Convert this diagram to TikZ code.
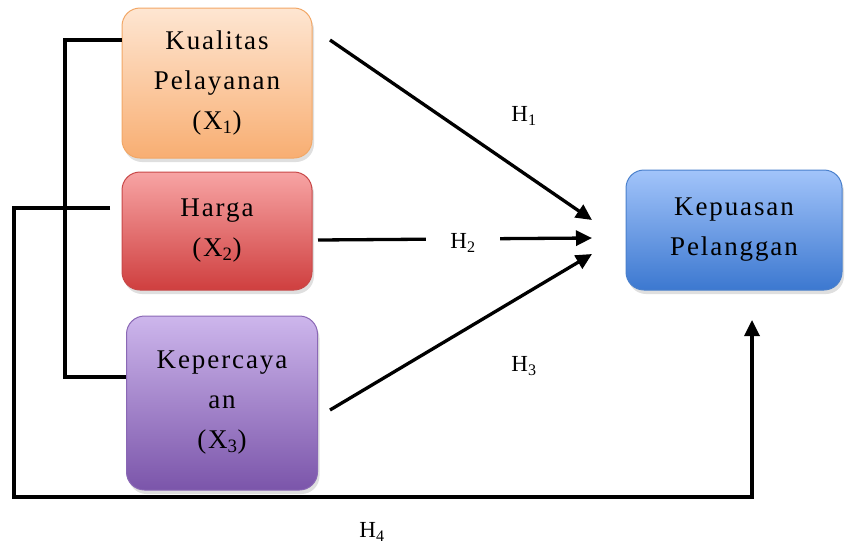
\documentclass[tikz,border=0pt]{standalone}
\usepackage{fontspec}
\setmainfont{Liberation Serif}
\newfontfamily\boxfont[LetterSpace=7]{Liberation Serif}
\usetikzlibrary{arrows.meta,shadows}

\definecolor{orTop}{HTML}{FEE6D2}
\definecolor{orBot}{HTML}{F8AE72}
\definecolor{orLine}{HTML}{F2A766}
\definecolor{rdTop}{HTML}{F7A4A4}
\definecolor{rdBot}{HTML}{CF3F3F}
\definecolor{rdLine}{HTML}{C84848}
\definecolor{puTop}{HTML}{CDB6EC}
\definecolor{puBot}{HTML}{7B55AA}
\definecolor{puLine}{HTML}{8A68B5}
\definecolor{blTop}{HTML}{A2C4FA}
\definecolor{blBot}{HTML}{3C78D0}
\definecolor{blLine}{HTML}{4A80CC}

\tikzset{
  varbox/.style={draw, line width=1pt, rounded corners=18pt, align=center,
    font=\boxfont\fontsize{27}{40}\selectfont, inner sep=0pt,
    drop shadow={opacity=0.25, shadow xshift=2pt, shadow yshift=-4pt}},
  wire/.style={line width=3.3pt},
  link/.style={line width=3.3pt, -{Triangle[length=16pt,width=15pt]}},
  hlabel/.style={font=\fontsize{23}{26}\selectfont, inner sep=2pt}
}

\begin{document}
\begin{tikzpicture}[x=1pt,y=-1pt]
\useasboundingbox (0,0) rectangle (856,549);

% variable boxes
\node[varbox, minimum width=190pt, minimum height=150pt, top color=orTop, bottom color=orBot, draw=orLine]
  (kq) at (217,83) {Kualitas\\Pelayanan\\(X\textsubscript{1})};
\node[varbox, minimum width=190pt, minimum height=118pt, top color=rdTop, bottom color=rdBot, draw=rdLine]
  (hg) at (217,231) {Harga\\(X\textsubscript{2})};
\node[varbox, minimum width=191pt, minimum height=174pt, top color=puTop, bottom color=puBot, draw=puLine]
  (kp) at (222,403) {Kepercaya\\an\\(X\textsubscript{3})};
\node[varbox, minimum width=216pt, minimum height=120pt, top color=blTop, bottom color=blBot, draw=blLine]
  (ks) at (734,230) {Kepuasan\\Pelanggan};

% bracket joining X1 and X3
\coordinate (bt) at (65,40);
\coordinate (bb) at (65,377);
\draw[wire] (kq.west |- bt) -- (bt) -- (bb) -- (kp.west |- bb);

% outer loop H4
\coordinate (o1) at (110,208);
\coordinate (o2) at (14,208);
\coordinate (o3) at (14,497);
\coordinate (o4) at (752,497);
\coordinate (o5) at (752,320);
\draw[wire, line join=miter, -{Triangle[length=16pt,width=15pt]}] (o1) -- (o2) -- (o3) -- (o4) -- (o5);

% hypothesis arrows
\coordinate (s1) at (330,40);
\coordinate (t1) at (592,220);
\coordinate (s2) at (318,240);
\coordinate (t2) at (592,238);
\coordinate (s3) at (330,410);
\coordinate (t3) at (592,254);
\draw[link] (s1) -- (t1);
\draw[link] (s2) -- (t2);
\draw[link] (s3) -- (t3);

% labels
\node[hlabel] (h1) at (524,116) {H\textsubscript{1}};
\node[hlabel, fill=white, minimum width=74pt, minimum height=40pt] (h2) at (463,243) {H\textsubscript{2}};
\node[hlabel] (h3) at (524,366) {H\textsubscript{3}};
\node[hlabel] (h4) at (372,532) {H\textsubscript{4}};
\end{tikzpicture}
\end{document}
